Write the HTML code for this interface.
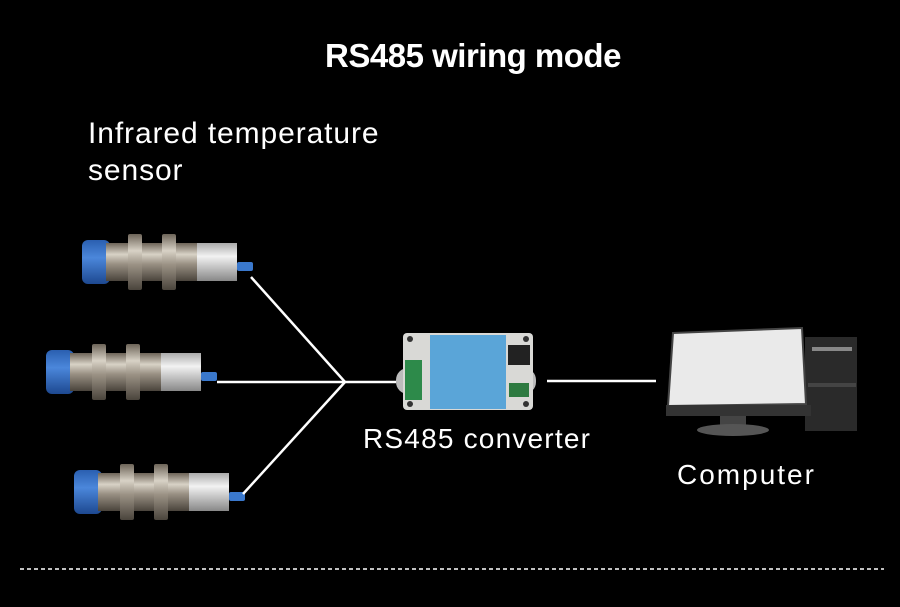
<!DOCTYPE html>
<html><head><style>
html,body{margin:0;padding:0;background:#000;}
svg{display:block}
text{font-family:"Liberation Sans",sans-serif;fill:#fff}
</style></head><body>
<svg width="900" height="607" viewBox="0 0 900 607">
<defs>
<linearGradient id="metal" x1="0" y1="0" x2="0" y2="1">
<stop offset="0" stop-color="#6d6458"/><stop offset="0.3" stop-color="#d8d2c6"/><stop offset="0.55" stop-color="#9a9184"/><stop offset="1" stop-color="#4a443c"/></linearGradient>
<linearGradient id="silver" x1="0" y1="0" x2="0" y2="1">
<stop offset="0" stop-color="#aaa"/><stop offset="0.35" stop-color="#f2f2f2"/><stop offset="1" stop-color="#888"/></linearGradient>
<linearGradient id="blue" x1="0" y1="0" x2="0" y2="1">
<stop offset="0" stop-color="#2a5fb0"/><stop offset="0.4" stop-color="#4b87db"/><stop offset="1" stop-color="#1d4890"/></linearGradient>
<g id="sensor">
<rect x="0" y="0" width="28" height="44" rx="6" fill="url(#blue)"/>
<rect x="24" y="3" width="94" height="38" fill="url(#metal)"/>
<rect x="46" y="-6" width="14" height="56" rx="2" fill="url(#metal)"/>
<rect x="80" y="-6" width="14" height="56" rx="2" fill="url(#metal)"/>
<rect x="115" y="3" width="40" height="38" fill="url(#silver)"/>
<rect x="155" y="22" width="16" height="9" rx="2" fill="#3a78cc"/>
</g>
</defs>
<text x="473" y="67" font-size="33" font-weight="bold" text-anchor="middle" letter-spacing="-0.5">RS485 wiring mode</text>
<text x="88" y="143" font-size="30" letter-spacing="0.9">Infrared temperature</text>
<text x="88" y="180" font-size="30" letter-spacing="0.9">sensor</text>
<use href="#sensor" x="82" y="240"/>
<use href="#sensor" x="46" y="350"/>
<use href="#sensor" x="74" y="470"/>
<g stroke="#fff" stroke-width="2.5" fill="none">
<line x1="251" y1="277" x2="345" y2="382"/>
<line x1="217" y1="382" x2="396" y2="382"/>
<line x1="243" y1="494" x2="345" y2="382"/>
<line x1="547" y1="381" x2="656" y2="381"/>
</g>
<rect x="396" y="368" width="140" height="26" rx="12" fill="#bbb"/>
<rect x="403" y="333" width="130" height="77" rx="4" fill="#d9d9d6"/>
<circle cx="410" cy="339" r="3" fill="#333"/><circle cx="526" cy="339" r="3" fill="#333"/>
<circle cx="410" cy="404" r="3" fill="#333"/><circle cx="526" cy="404" r="3" fill="#333"/>
<rect x="430" y="335" width="76" height="74" fill="#5aa5d8"/>
<rect x="405" y="360" width="17" height="40" fill="#2d8a4a"/>
<rect x="508" y="345" width="22" height="20" fill="#222"/>
<rect x="509" y="383" width="20" height="14" fill="#2d7a40"/>
<rect x="805" y="337" width="52" height="94" fill="#2a2a2a"/>
<rect x="812" y="347" width="40" height="4" fill="#888"/>
<rect x="808" y="383" width="48" height="4" fill="#444"/>
<polygon points="673,333 802,328 806,404 668,406" fill="#eaeaea" stroke="#444" stroke-width="2"/>
<rect x="666" y="405" width="145" height="11" fill="#333"/>
<rect x="720" y="416" width="26" height="10" fill="#444"/>
<ellipse cx="733" cy="430" rx="36" ry="6" fill="#555"/>
<text x="363" y="448" font-size="28" letter-spacing="1.2">RS485 converter</text>
<text x="677" y="484" font-size="28" letter-spacing="2">Computer</text>
<line x1="20" y1="569" x2="884" y2="569" stroke="#fff" stroke-width="1.5" stroke-dasharray="4,3"/>
</svg>
</body></html>
